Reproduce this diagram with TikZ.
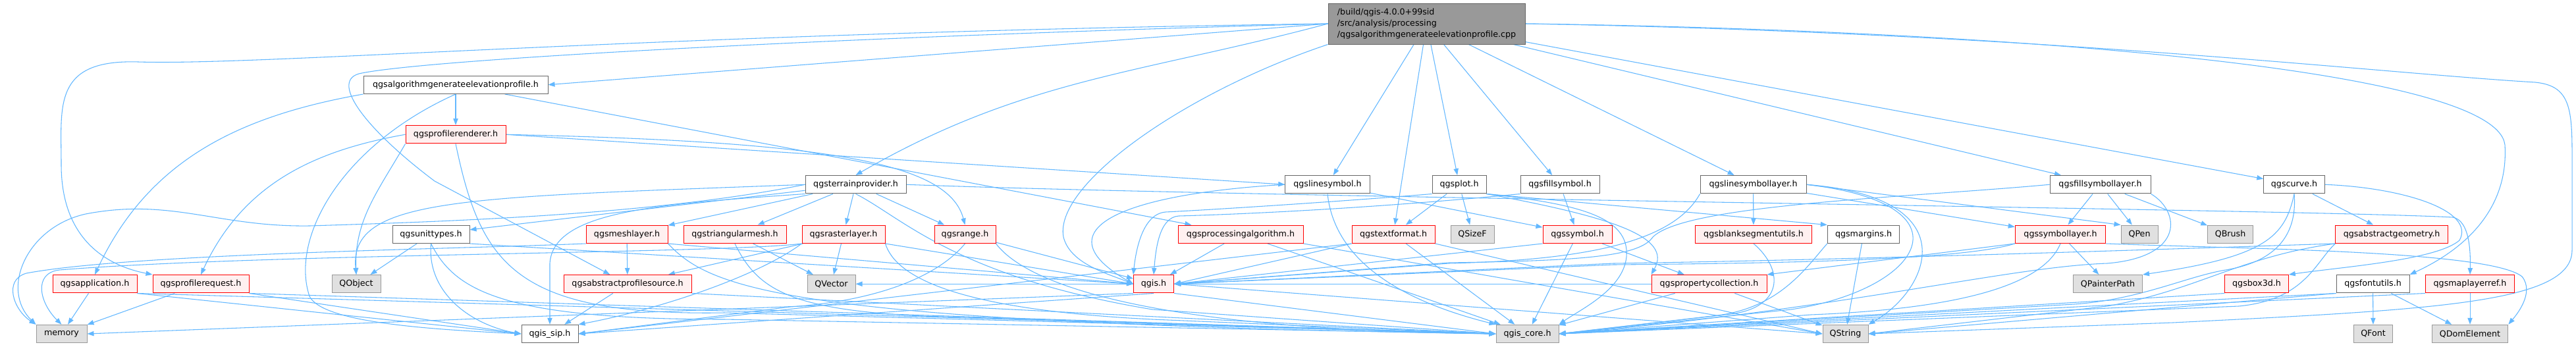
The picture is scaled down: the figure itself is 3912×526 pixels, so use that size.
\documentclass[tikz,border=0pt]{standalone}
\usepackage{fontspec}
\setmainfont{DejaVu Sans}
\usetikzlibrary{arrows.meta}

\definecolor{edgeblue}{RGB}{99,184,255}
\definecolor{redrim}{RGB}{255,0,0}
\definecolor{redfill}{RGB}{255,240,240}
\definecolor{sysfill}{RGB}{224,224,224}
\definecolor{sysrim}{RGB}{153,153,153}
\definecolor{plainrim}{RGB}{102,102,102}
\definecolor{mainfill}{RGB}{153,153,153}

\pgfdeclarelayer{edges}
\pgfsetlayers{edges,main}

\begin{document}
\begin{tikzpicture}[x=0.75bp, y=-0.75bp,
    filebox/.style = {
      rectangle,
      draw,
      line width = 0.75bp,
      inner sep = 0pt,
      minimum height = 20.6bp,
      font = \fontsize{9.5bp}{12.8bp}\selectfont
    },
    wd/.style = {minimum width = #1*0.75bp},
    plainfile/.style = {filebox, draw=plainrim, fill=white},
    redfile/.style = {filebox, draw=redrim, fill=redfill},
    sysfile/.style = {filebox, draw=sysrim, fill=sysfill},
    mainfile/.style = {filebox, draw=plainrim, fill=mainfill, align=left, minimum height=46.5bp},
    dep/.style = {draw=edgeblue, line width=0.8bp, -{Triangle[length=7.5bp, width=5.5bp]}}
  ]
  \useasboundingbox (0,0) rectangle (3912,526);

  \node[mainfile, wd=299] (cpp) at (2166.5,36)
    {/build/qgis-4.0.0+99sid\\/src/analysis/processing\\/qgsalgorithmgenerateelevationprofile.cpp};

  \node[plainfile, wd=280] (algo) at (692,128.75) {qgsalgorithmgenerateelevationprofile.h};
  \node[redfile, wd=152] (renderer) at (692,204.25) {qgsprofilerenderer.h};

  \node[plainfile, wd=153] (terrain) at (1299.5,280.25) {qgsterrainprovider.h};
  \node[plainfile, wd=128.5] (linesymbol) at (2016,280.25) {qgslinesymbol.h};
  \node[plainfile, wd=82] (qgsplot) at (2216,280.25) {qgsplot.h};
  \node[plainfile, wd=120] (fillsymbol) at (2369,280.25) {qgsfillsymbol.h};
  \node[plainfile, wd=161] (linesymlayer) at (2662.5,280.25) {qgslinesymbollayer.h};
  \node[plainfile, wd=153] (fillsymlayer) at (3189.5,280.25) {qgsfillsymbollayer.h};
  \node[plainfile, wd=92.5] (qgscurve) at (3484,280.25) {qgscurve.h};

  \node[plainfile, wd=117] (unittypes) at (654.5,355.75) {qgsunittypes.h};
  \node[redfile, wd=124] (meshlayer) at (952,355.75) {qgsmeshlayer.h};
  \node[redfile, wd=156] (trimesh) at (1116,355.75) {qgstriangularmesh.h};
  \node[redfile, wd=126] (rasterlayer) at (1281,355.75) {qgsrasterlayer.h};
  \node[redfile, wd=93] (qgsrange) at (1465.5,355.75) {qgsrange.h};
  \node[redfile, wd=190] (procalg) at (1884,355.75) {qgsprocessingalgorithm.h};
  \node[redfile, wd=126] (textformat) at (2116,355.75) {qgstextformat.h};
  \node[sysfile, wd=66] (qsizef) at (2236,355.75) {QSizeF};
  \node[redfile, wd=105] (symbol) at (2395.5,355.75) {qgssymbol.h};
  \node[redfile, wd=177.5] (blankseg) at (2663,355.75) {qgsblanksegmentutils.h};
  \node[plainfile, wd=109.5] (margins) at (2830,355.75) {qgsmargins.h};
  \node[redfile, wd=137.5] (symlayer) at (3129,355.75) {qgssymbollayer.h};
  \node[sysfile, wd=56] (qpen) at (3249,355.75) {QPen};
  \node[sysfile, wd=68.5] (qbrush) at (3387,355.75) {QBrush};
  \node[redfile, wd=170.5] (absgeom) at (3632,355.75) {qgsabstractgeometry.h};

  \node[redfile, wd=128] (application) at (144,431.25) {qgsapplication.h};
  \node[redfile, wd=146] (request) at (305,431.25) {qgsprofilerequest.h};
  \node[sysfile, wd=74] (qobject) at (541,431.25) {QObject};
  \node[redfile, wd=194] (absprofile) at (953,431.25) {qgsabstractprofilesource.h};
  \node[sysfile, wd=73] (qvector) at (1262.5,431.25) {QVector};
  \node[redfile, wd=61] (qgis) at (1752,431.25) {qgis.h};
  \node[redfile, wd=175] (propcoll) at (2595.5,431.25) {qgspropertycollection.h};
  \node[sysfile, wd=105] (qpainterpath) at (3201,431.25) {QPainterPath};
  \node[redfile, wd=96.5] (box3d) at (3427,431.25) {qgsbox3d.h};
  \node[plainfile, wd=111] (fontutils) at (3603.5,431.25) {qgsfontutils.h};
  \node[redfile, wd=135.5] (maplayerref) at (3751,431.25) {qgsmaplayerref.h};

  \node[sysfile, wd=77] (memory) at (93.5,507) {memory};
  \node[plainfile, wd=86] (sip) at (835,507) {qgis\_sip.h};
  \node[sysfile, wd=95] (core) at (2319.5,507) {qgis\_core.h};
  \node[sysfile, wd=69] (qstring) at (2802.5,507) {QString};
  \node[sysfile, wd=59.5] (qfont) at (3604,507) {QFont};
  \node[sysfile, wd=115.5] (qdomelement) at (3751,507) {QDomElement};

  \begin{pgfonlayer}{edges}
  \fill[white] (0,0) rectangle (3912,526);

  % includes of the .cpp file
  \draw[dep] (cpp.west) -- (algo.east);
  \draw[dep] (cpp.west) .. controls (1000,50) and (400,100) .. (210,94)
    .. controls (80,90) and (93,160) .. (93,250)
    .. controls (93,370) and (170,405) .. (request.north west);
  \draw[dep] (cpp.west) .. controls (1300,55) and (640,90) .. (545,112)
    .. controls (500,125) and (560,200) .. (660,275) -- (absprofile);
  \draw[dep] (cpp.west) to[out=195,in=30] (terrain.north);
  \draw[dep] (cpp.south west) .. controls (1800,140) and (1600,280) .. (1615,360)
    .. controls (1625,400) and (1680,415) .. (qgis.west);
  \draw[dep] (cpp) -- (linesymbol);
  \draw[dep] (cpp) -- (textformat);
  \draw[dep] (cpp) -- (qgsplot);
  \draw[dep] (cpp) -- (fillsymbol);
  \draw[dep] (cpp) -- (linesymlayer);
  \draw[dep] (cpp) -- (fillsymlayer);
  \draw[dep] (cpp) -- (qgscurve);
  \draw[dep] (cpp.east) .. controls (3000,45) and (3790,100) .. (3804,220)
    .. controls (3810,320) and (3740,380) .. (fontutils.north east);
  \draw[dep] (cpp.east) .. controls (3100,50) and (3600,110) .. (3850,125)
    .. controls (3900,130) and (3906,160) .. (3906,230) -- (3906,380)
    .. controls (3906,460) and (3700,470) .. (3300,490) -- (qstring.east);

  \draw[dep] (algo) -- (renderer);
  \draw[dep] (algo.south west) to[out=190,in=65] (application.north);
  \draw[dep] (algo) -- (procalg);
  \draw[dep] (algo.south) .. controls (520,220) and (440,360) .. (470,450)
    .. controls (490,490) and (650,500) .. (sip.west);

  \draw[dep] (renderer.west) to[out=190,in=65] (request.north);
  \draw[dep] (renderer.south west) to[out=-120,in=92] (qobject.north);
  \draw[dep] (renderer.south) .. controls (730,400) and (780,480) .. (1100,475) -- (core.west);
  \draw[dep] (renderer.east) .. controls (1250,215) and (1440,245) .. (qgsrange.north);
  \draw[dep] (renderer.east) -- (linesymbol.west);

  \draw[dep] (unittypes) -- (qobject);
  \draw[dep] (unittypes.south) to[out=-95,in=170] (sip.west);
  \draw[dep] (unittypes.south) .. controls (690,440) and (760,485) .. (1100,485) -- (core.west);
  \draw[dep] (unittypes.south east) -- (qgis.west);

  \draw[dep] (application) -- (memory);
  \draw[dep] (application.south east) -- (sip.west);
  \draw[dep] (application.south east) -- (core.west);
  \draw[dep] (request) -- (memory);
  \draw[dep] (request.south east) -- (sip.west);
  \draw[dep] (request.south east) -- (core.west);

  \draw[dep] (terrain) -- (unittypes);
  \draw[dep] (terrain) -- (meshlayer);
  \draw[dep] (terrain) -- (trimesh);
  \draw[dep] (terrain) -- (rasterlayer);
  \draw[dep] (terrain) -- (qgsrange);
  \draw[dep] (terrain.west) .. controls (700,300) and (530,300) .. (qobject.north);
  \draw[dep] (terrain.west) .. controls (1000,325) and (700,336) .. (470,343)
    .. controls (330,345) and (260,300) .. (130,325)
    .. controls (40,345) and (0,440) .. (memory.north west);
  \draw[dep] (terrain.south west) .. controls (1000,310) and (840,320) .. (835,400) -- (sip.north);
  \draw[dep] (terrain.south) .. controls (1370,330) and (1450,420) .. (1750,470) -- (core.west);
  \draw[dep] (terrain.east) .. controls (1900,300) and (3500,318) .. (3725,330)
    .. controls (3750,335) and (3752,380) .. (maplayerref.north);

  \draw[dep] (meshlayer) -- (absprofile);
  \draw[dep] (meshlayer.south west) .. controls (700,378) and (200,385) .. (40,415)
    .. controls (5,425) and (20,470) .. (memory.north west);
  \draw[dep] (meshlayer.south east) .. controls (1080,440) and (1200,490) .. (core.west);
  \draw[dep] (meshlayer.south east) -- (qgis.west);

  \draw[dep] (trimesh) -- (qvector);
  \draw[dep] (trimesh.south) .. controls (1150,440) and (1200,470) .. (1400,480) -- (core.west);

  \draw[dep] (rasterlayer) -- (qvector);
  \draw[dep] (rasterlayer) -- (absprofile);
  \draw[dep] (rasterlayer.south west) .. controls (1150,420) and (1000,470) .. (sip.north east);
  \draw[dep] (rasterlayer.south east) .. controls (1360,420) and (1450,470) .. (1750,485) -- (core.west);
  \draw[dep] (rasterlayer.south east) -- (qgis.west);
  \draw[dep] (rasterlayer.south west) .. controls (1100,385) and (400,385) .. (90,410)
    .. controls (50,415) and (60,460) .. (memory.north);

  \draw[dep] (qgsrange) -- (qgis);
  \draw[dep] (qgsrange.south) .. controls (1420,425) and (1320,458) .. (1200,466) -- (sip.east);
  \draw[dep] (qgsrange.south east) .. controls (1550,420) and (1700,500) .. (core.west);

  \draw[dep] (absprofile) -- (sip);
  \draw[dep] (absprofile.south east) -- (core.west);

  \draw[dep] (qgis.south) -- (sip.east);
  \draw[dep] (qgis.south east) -- (core.west);
  \draw[dep] (qgis.east) -- (qstring.west);
  \draw[dep] (qgis.south west) -- (memory.east);
  \draw[dep] (qgis.west) -- (qvector.east);

  \draw[dep] (procalg) -- (qgis);
  \draw[dep] (procalg) -- (core);
  \draw[dep] (procalg.south east) -- (qstring.west);

  \draw[dep] (linesymbol) -- (symbol);
  \draw[dep] (linesymbol.south) .. controls (2025,380) and (2100,450) .. (core.north west);
  \draw[dep] (linesymbol.west) .. controls (1700,295) and (1580,350) .. (qgis.west);

  \draw[dep] (qgsplot) -- (textformat);
  \draw[dep] (qgsplot) -- (qsizef);
  \draw[dep] (qgsplot.south west) .. controls (2050,305) and (1850,318) .. (1770,322)
    .. controls (1735,325) and (1725,380) .. (qgis.north west);
  \draw[dep] (qgsplot.south east) .. controls (2400,310) and (2475,330) .. (2470,390)
    .. controls (2465,440) and (2400,470) .. (core.north east);
  \draw[dep] (qgsplot.south east) -- (margins.north west);
  \draw[dep] (qgsplot.south east) .. controls (2450,330) and (2540,360) .. (propcoll.north west);

  \draw[dep] (fillsymbol) -- (symbol);
  \draw[dep] (fillsymbol.south west) .. controls (2100,315) and (1900,325) .. (1790,328)
    .. controls (1760,330) and (1755,380) .. (qgis.north);

  \draw[dep] (textformat) -- (core);
  \draw[dep] (textformat.south west) -- (sip.east);
  \draw[dep] (textformat.south west) -- (qgis.east);
  \draw[dep] (textformat.south east) -- (qstring.west);

  \draw[dep] (symbol) -- (core);
  \draw[dep] (symbol) -- (propcoll);
  \draw[dep] (symbol.south west) -- (qgis.east);

  \draw[dep] (propcoll) -- (core);
  \draw[dep] (propcoll) -- (qstring);
  \draw[dep] (propcoll.west) -- (qgis.east);

  \draw[dep] (linesymlayer) -- (blankseg);
  \draw[dep] (linesymlayer) -- (symlayer);
  \draw[dep] (linesymlayer.east) -- (qpen.north west);
  \draw[dep] (linesymlayer.east) .. controls (2990,300) and (2930,440) .. (qstring.north east);
  \draw[dep] (linesymlayer.east) .. controls (3000,310) and (2920,440) .. (2720,470) -- (core.east);
  \draw[dep] (linesymlayer.south west) .. controls (2540,370) and (2400,395) .. (2200,400) -- (qgis.east);

  \draw[dep] (fillsymlayer) -- (symlayer);
  \draw[dep] (fillsymlayer) -- (qpen);
  \draw[dep] (fillsymlayer) -- (qbrush);
  \draw[dep] (fillsymlayer.south east) .. controls (3310,320) and (3320,390) .. (3200,400)
    .. controls (3050,405) and (2800,470) .. (core.east);
  \draw[dep] (fillsymlayer.west) .. controls (2900,300) and (2560,310) .. (2510,360)
    .. controls (2490,390) and (2400,396) .. (2200,399) -- (qgis.east);

  \draw[dep] (blankseg.south) .. controls (2710,410) and (2710,470) .. (2620,478) -- (core.east);
  \draw[dep] (margins) -- (qstring);
  \draw[dep] (margins.south west) .. controls (2740,410) and (2700,470) .. (2600,480) -- (core.east);

  \draw[dep] (symlayer) -- (qpainterpath);
  \draw[dep] (symlayer.south west) -- (propcoll.north east);
  \draw[dep] (symlayer.south) .. controls (3100,440) and (2950,470) .. (2750,478) -- (core.east);
  \draw[dep] (symlayer.south west) .. controls (2980,395) and (2700,400) .. (2450,402) -- (qgis.east);
  \draw[dep] (symlayer.south east) .. controls (3400,378) and (3780,380) .. (3830,420)
    .. controls (3850,445) and (3820,480) .. (qdomelement.north east);

  \draw[dep] (qgscurve) -- (absgeom);
  \draw[dep] (qgscurve.south) .. controls (3470,360) and (3440,390) .. (qpainterpath.north east);
  \draw[dep] (qgscurve.east) .. controls (3650,285) and (3760,320) .. (3735,365)
    .. controls (3700,395) and (3560,405) .. (box3d.north east);
  \draw[dep] (qgscurve.south) .. controls (3490,370) and (3440,400) .. (3380,410)
    .. controls (3320,420) and (3250,455) .. (3150,462) -- (core.east);

  \draw[dep] (absgeom.south west) .. controls (3515,400) and (3500,455) .. (3400,465) -- (core.east);
  \draw[dep] (absgeom.south west) .. controls (3400,390) and (3340,440) .. (3200,465) -- (qstring.east);
  \draw[dep] (absgeom.south west) .. controls (3300,378) and (2800,395) .. (2450,400) -- (qgis.east);

  \draw[dep] (box3d.south west) -- (core.east);
  \draw[dep] (fontutils) -- (qfont);
  \draw[dep] (fontutils) -- (qdomelement);
  \draw[dep] (fontutils.south west) -- (core.east);
  \draw[dep] (fontutils.south west) -- (qstring.east);
  \draw[dep] (maplayerref) -- (qdomelement);
  \draw[dep] (maplayerref.south west) -- (core.east);
  \end{pgfonlayer}
\end{tikzpicture}
\end{document}
